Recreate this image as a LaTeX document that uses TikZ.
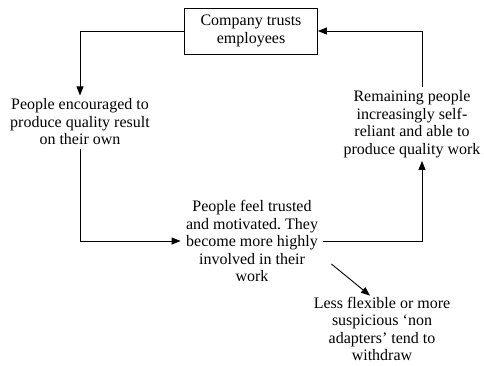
\documentclass[tikz,border=0pt]{standalone}
\usepackage{fontspec}
\setmainfont{Liberation Serif}
\usetikzlibrary{arrows.meta, positioning}
\frenchspacing

\begin{document}
\begin{tikzpicture}[
    x=1pt, y=-1pt,
    line width=0.9pt,
    >={Triangle[length=9pt,width=7pt]},
    every node/.style={align=center, inner sep=3pt,
        font=\fontsize{16}{17.5}\selectfont},
    cycle box/.style={draw, minimum width=133pt, minimum height=46pt}
]
\useasboundingbox (0,0) rectangle (484,365);

\node[cycle box] (trust) at (251,31) {Company trusts\\employees};
\node (encourage) [below of=trust, node distance=91pt, xshift=-171pt]
    {People encouraged to\\produce quality result\\on their own};
\node (motivated) [below of=encourage, node distance=119pt, xshift=172pt, inner xsep=5pt]
    {People feel trusted\\and motivated. They\\become more highly\\involved in their\\work};
\node (reliant) [below of=trust, node distance=93pt, xshift=161pt]
    {Remaining people\\increasingly self-\\reliant and able to\\produce quality work};
\node (withdraw) [below of=motivated, node distance=88pt, xshift=130pt, inner ysep=1pt]
    {Less flexible or more\\suspicious `non\\adapters' tend to\\withdraw};

\draw[->] (trust.west) -| (encourage.north);
\draw[->] (encourage.south) |- (motivated.west);
\draw[->] (motivated.east) -| ([xshift=10pt]reliant.south);
\draw[->] ([xshift=10pt]reliant.north) |- (trust.east);
\draw[->] ([shift={(8pt,-23pt)}]motivated.east) -- ([xshift=-12pt]withdraw.north);

\end{tikzpicture}
\end{document}
